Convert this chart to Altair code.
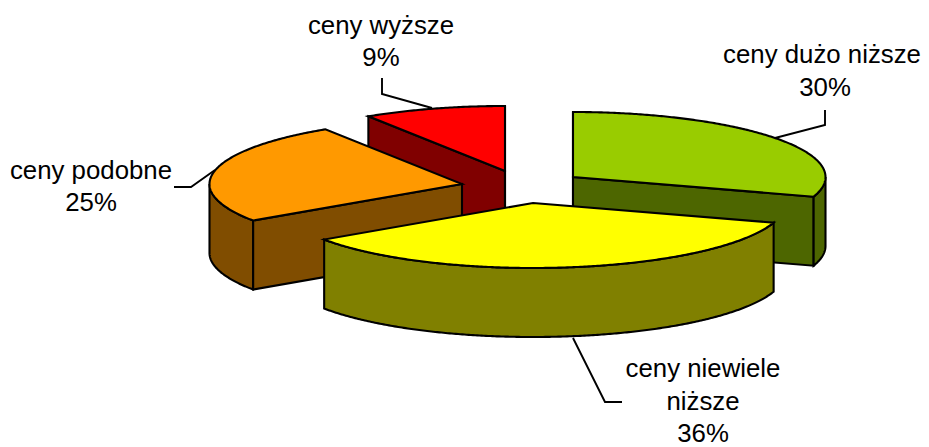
import math
import altair as alt
import pandas as pd

# --- chart values -------------------------------------------------------
labels = ["ceny dużo niższe", "ceny niewiele niższe", "ceny podobne", "ceny wyższe"]
shares = [29.9, 35.6, 25.4, 9.1]  # labels show the rounded values
top_colors = ["#99CC00", "#FFFF00", "#FF9900", "#FF0000"]
side_colors = ["#4D6600", "#808000", "#804D00", "#800000"]

# --- 3-D pie projection (page pixels) -----------------------------------
centers = {"ceny dużo niższe": (573, 177), "ceny niewiele niższe": (533, 203),
           "ceny podobne": (462, 184), "ceny wyższe": (505, 171)}
RX, RY, DEPTH = 252.5, 65, 69


def rim(c, deg, dz=0):
    t = math.radians(deg)
    return (c[0] + RX * math.sin(t), c[1] - RY * math.cos(t) + dz)


def arc(c, a0, a1, dz=0):
    n = max(2, int(abs(a1 - a0) * 2))
    return [rim(c, a0 + (a1 - a0) * i / n, dz) for i in range(n + 1)]


def top(c, a0, a1):
    return [c] + arc(c, a0, a1)


def wall(c, a0, a1):
    return arc(c, a0, a1) + arc(c, a1, a0, DEPTH)


def face(c, deg):
    return [c, rim(c, deg), rim(c, deg, DEPTH), (c[0], c[1] + DEPTH)]


starts, s = {}, 0.0
for name, v in zip(labels, shares):
    starts[name] = (s, s + v * 3.6)
    s += v * 3.6

polys = []  # (points, fill) in paint order
for name in ["ceny wyższe", "ceny dużo niższe", "ceny podobne", "ceny niewiele niższe"]:
    i = labels.index(name)
    c = centers[name]
    a0, a1 = starts[name]
    if name == "ceny wyższe":
        parts = [face(c, a0), face(c, a1)]
    elif name == "ceny dużo niższe":
        parts = [face(c, a0), face(c, a1), wall(c, 90, a1)]
    elif name == "ceny podobne":
        parts = [wall(c, a0, 270), face(c, a0)]
    else:
        parts = [wall(c, a0, a1)]
    for p in parts:
        polys.append((p, side_colors[i]))
    polys.append((top(c, a0, a1), top_colors[i]))

# --- data labels and leader lines ---------------------------------------
text_rows = [
    ("ceny wyższe", 381, 26), ("9%", 381, 58),
    ("ceny dużo niższe", 822, 55), ("30%", 825, 88),
    ("ceny podobne", 91, 171), ("25%", 91, 203),
    ("ceny niewiele", 703, 369), ("niższe", 703, 402), ("36%", 703, 434),
]
leaders = [
    [(825, 110), (825, 125), (775, 138)],
    [(382, 78), (382, 94), (432, 108)],
    [(174, 187), (191, 187), (215, 170)],
    [(573, 338), (605, 402), (622, 402)],
]

W, H = 913, 438
xs = alt.Scale(domain=[8, 8 + W], range=[0, W], nice=False, zero=False)
ys = alt.Scale(domain=[8, 8 + H], range=[0, H], nice=False, zero=False)
X = alt.X("x:Q", scale=xs, axis=None)
Y = alt.Y("y:Q", scale=ys, axis=None)

layers = []
for pts, col in polys:
    df = pd.DataFrame({"x": [p[0] for p in pts], "y": [p[1] for p in pts], "i": range(len(pts))})
    layers.append(
        alt.Chart(df).mark_line(interpolate="linear-closed", fill=col, stroke="black",
                                strokeWidth=2.1, strokeJoin="miter", clip=False)
        .encode(x=X, y=Y, order="i:Q")
    )
for pts in leaders:
    df = pd.DataFrame({"x": [p[0] for p in pts], "y": [p[1] for p in pts], "i": range(len(pts))})
    layers.append(
        alt.Chart(df).mark_line(stroke="black", strokeWidth=1.9).encode(x=X, y=Y, order="i:Q")
    )
tdf = pd.DataFrame(text_rows, columns=["t", "x", "y"])
layers.append(
    alt.Chart(tdf).mark_text(font="Liberation Sans", fontSize=25.8, color="black",
                             align="center", baseline="middle")
    .encode(x=X, y=Y, text="t:N")
)

chart = alt.layer(*layers).properties(
    width=W, height=H, padding=0,
    autosize=alt.AutoSizeParams(type="none"),
    background="white",
).configure_view(stroke=None)

chart.save("out.html", embed_options={"renderer": "svg", "actions": False})
